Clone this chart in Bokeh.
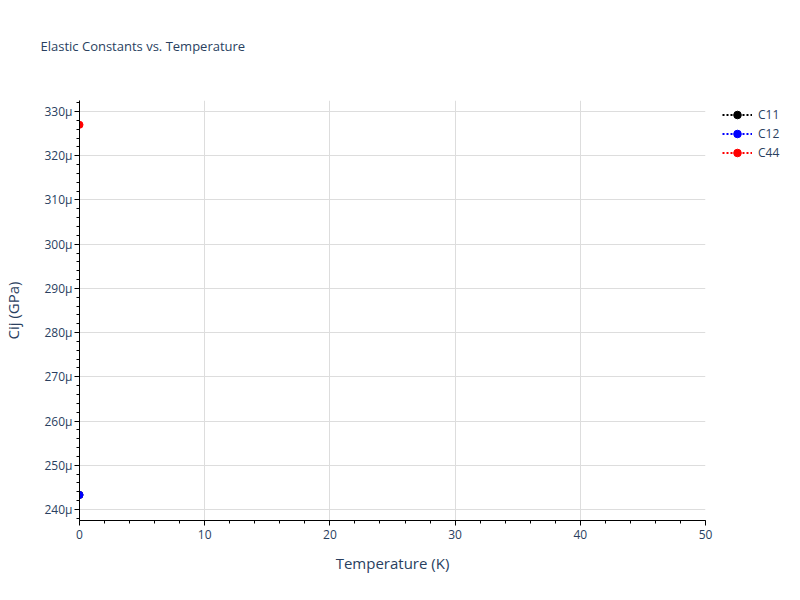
from bokeh.plotting import figure
from bokeh.models import (Range1d, SingleIntervalTicker, FixedTicker, CustomJSTickFormatter,
                          Legend, LegendItem, ColumnDataSource, LinearAxis)
from bokeh.embed import file_html
from bokeh.resources import INLINE

# ---- data ----
temperature = [0]
c11 = [243.3e-6]
c12 = [243.3e-6]
c44 = [327.0e-6]
series_names = ["C11", "C12", "C44"]
series_colors = ["black", "blue", "red"]

x_ticks_interval = 10
y_ticks_interval = 10e-6

TEXT = "#2a3f5f"
FONT = "Open Sans"

p = figure(frame_width=626, frame_height=420, output_backend="svg", toolbar_location=None,
           x_range=Range1d(0, 50), y_range=Range1d(237.51e-6, 332.49e-6),
           min_border_left=71, min_border_right=87, min_border_top=100, min_border_bottom=72)
p.outline_line_color = None
p.background_fill_color = "white"
p.border_fill_color = "white"

# axes (bottom and left)
xa = p.below[0]
ya = p.left[0]
xa.ticker = SingleIntervalTicker(interval=x_ticks_interval, num_minor_ticks=5)
ya.ticker = SingleIntervalTicker(interval=y_ticks_interval, num_minor_ticks=5)
ya.formatter = CustomJSTickFormatter(code="return Math.round(tick*1e6) + '\u03bc';")
for ax in (xa, ya):
    ax.axis_line_color = "black"
    ax.axis_line_width = 1
    ax.major_tick_line_color = "black"
    ax.minor_tick_line_color = "black"
    ax.major_tick_in = 0
    ax.major_tick_out = 5
    ax.minor_tick_in = 0
    ax.minor_tick_out = 3
    ax.major_label_text_font = FONT
    ax.major_label_text_font_size = "12px"
    ax.major_label_text_color = TEXT
    ax.axis_label_text_font = FONT
    ax.axis_label_text_font_size = "15px"
    ax.axis_label_text_font_style = "normal"
    ax.axis_label_text_color = TEXT
xa.axis_label = "Temperature (K)"
ya.axis_label = "Cij (GPa)"
xa.major_label_standoff = 4
ya.major_label_standoff = 2
xa.axis_label_standoff = 11
ya.axis_label_standoff = 18

p.xgrid.grid_line_color = "#dddddd"
p.ygrid.grid_line_color = "#dddddd"
p.xgrid.ticker = xa.ticker
p.ygrid.ticker = ya.ticker

# blank spacer between the title and the plot area (no visible line, tick or label)
spacer = LinearAxis(ticker=FixedTicker(ticks=[0], minor_ticks=[]), axis_line_color=None,
                    major_tick_line_color=None, minor_tick_line_color=None,
                    major_tick_in=0, major_tick_out=41, minor_tick_in=0, minor_tick_out=0,
                    major_label_standoff=0, major_label_text_font_size="1px",
                    major_label_overrides={0: ""})
p.add_layout(spacer, "above")

p.title.text = "Elastic Constants vs. Temperature"
p.title.text_font = FONT
p.title.text_font_size = "13px"
p.title.text_font_style = "normal"
p.title.text_color = TEXT
p.title.align = "left"
p.title.offset = -39
p.title.standoff = 10

items = []
for name, vals, col in zip(series_names, [c11, c12, c44], series_colors):
    src = ColumnDataSource(dict(x=temperature, y=vals))
    ln = p.line("x", "y", source=src, line_color=col, line_width=2, line_dash="2 2")
    sc = p.scatter("x", "y", source=src, size=7, fill_color=col, line_color=col)
    items.append(LegendItem(label=name, renderers=[ln, sc]))

legend = Legend(items=items, location=(17, 358), padding=0, margin=0, spacing=0,
                glyph_width=30, glyph_height=19, label_height=19, label_standoff=6,
                label_text_font=FONT, label_text_font_size="12px", label_text_color=TEXT,
                border_line_color=None, background_fill_alpha=0)
p.add_layout(legend, "right")

open("out.html", "w").write(file_html(p, INLINE))
